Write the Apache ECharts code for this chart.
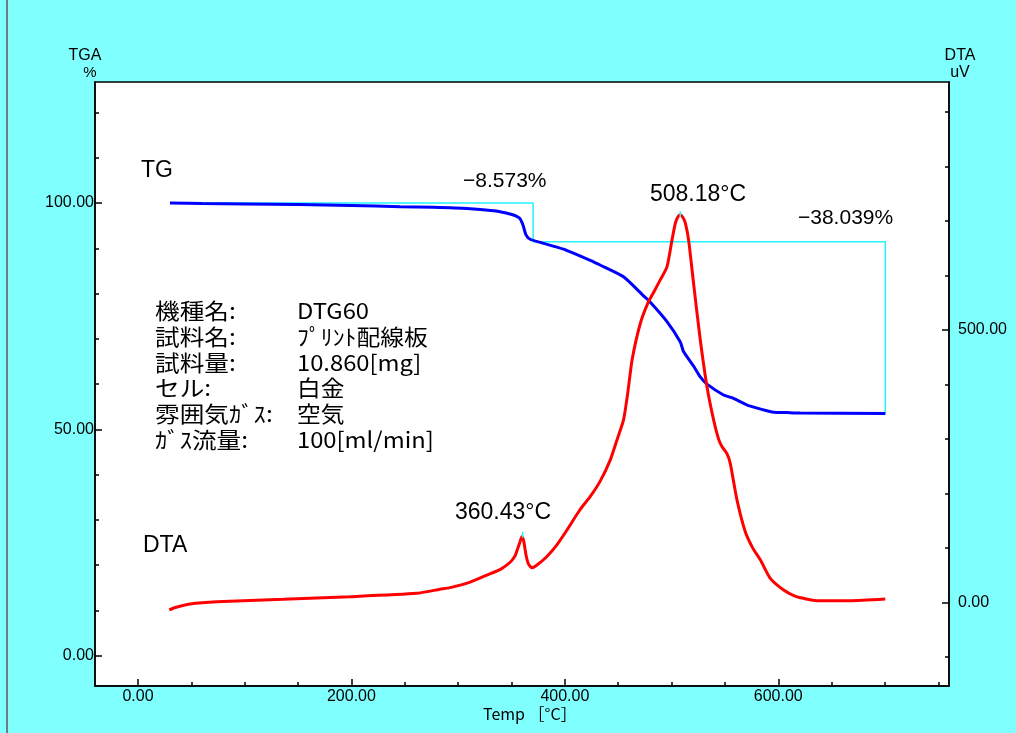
<!DOCTYPE html>
<html>
<head>
<meta charset="utf-8">
<script src="https://cdn.jsdelivr.net/npm/echarts@6/dist/echarts.min.js"></script>
<style>html,body{margin:0;padding:0;background:#80ffff;}#c{width:1016px;height:733px;}</style>
</head>
<body>
<div id="c"></div>
<script>
// ---- data ----
const tgTemp = [30, 60, 100, 150, 200, 245.6, 276.8, 308.2, 333.1, 345, 351.9, 356, 358.1, 360, 361.2, 363.7, 367.5, 376.9, 398.7, 426.8, 433, 455, 473.7, 478.4, 495.7, 508.2, 511.2, 520.6, 526.9, 533.2, 548.7, 556.5, 570.5, 577, 589.3, 595.7, 608, 620.6, 700.3];
const tgPct  = [100.0, 99.9, 99.8, 99.65, 99.45, 99.2, 99.05, 98.8, 98.3, 97.8, 97.35, 96.9, 96.5, 95.6, 94.8, 92.9, 92.0, 91.3, 89.8, 87.0, 86.3, 83.7, 79.5, 78.5, 73.8, 69.3, 67.2, 64.0, 61.6, 60.0, 57.6, 57.0, 55.4, 54.9, 54.1, 53.8, 53.7, 53.6, 53.5];

const dtaTemp = [29.3, 35, 48.7, 73.8, 136, 199, 261, 283, 292.5, 310, 327, 340, 349, 353, 355, 357.5, 359.7, 361.5, 363.7, 366, 369, 373, 383, 392, 402, 414, 423.7, 433, 442.5, 449, 455, 459, 463, 470.7, 478.4, 484, 489.4, 495.7, 500.4, 503.5, 506, 508.2, 510.5, 513, 516, 520.6, 526.9, 533.2, 539.4, 544, 547.2, 551.9, 555, 561.3, 569, 576, 583.2, 592.5, 605, 615, 623.7, 636, 667, 700.3];
const dtaUV   = [-14, -9.5, -3.1, 1.1, 5.5, 10.3, 16.5, 23.9, 27, 36, 50, 61, 74, 84, 94, 108, 120.4, 112, 86, 70, 63.5, 67, 83.7, 104, 132.8, 169.5, 193.9, 222, 261, 299, 335, 385, 445, 512, 552, 572, 592, 616, 665, 696, 708, 711, 707, 696, 665, 586, 482, 396, 335, 300, 286, 273, 255, 188, 130, 100, 78, 44, 22.6, 12, 7.3, 3, 3, 6.1];

// weight-loss step (TGA analysis)
const stepTemp = [30, 370.3, 370.3, 700.3, 700.3];
const stepPct  = [100.0, 100.0, 91.427, 91.427, 53.388];
const stepLabels = ['\u22128.573%', '\u221238.039%'];

// DTA peaks
const peakTemp = [360.43, 508.18];
const peakUV   = [120.4, 711];

// tick values
const xMajor = [0, 200, 400, 600];
const xMinor = [50, 100, 150, 250, 300, 350, 450, 500, 550, 650, 700, 750];
const tgMajor = [0, 50, 100];
const tgMinor = [10, 20, 30, 40, 60, 70, 80, 90, 110, 120];
const dtaMajor = [0, 500];
const dtaMinor = [-100, 100, 200, 300, 400, 600, 700, 800, 900];

const infoLabels = ['機種名:', '試料名:', '試料量:', 'セル:', '雰囲気ｶﾞｽ:', 'ｶﾞｽ流量:'];
const infoValues = ['DTG60', 'ﾌﾟﾘﾝﾄ配線板', '10.860[mg]', '白金', '空気', '100[ml/min]'];

// ---- chart ----
const zip = (a, b) => a.map((v, i) => [v, b[i]]);
const fmt = v => Number(v).toFixed(2);
const NUM = 'Liberation Sans, Arial, sans-serif';
const JP = 'Noto Sans CJK JP, sans-serif';

const X = {min: -40.3, max: 760};
const YL = {min: -6.69, max: 126.73};
const YR = {min: -153.7, max: 955.4};

function axisBase(rng, pos) {
  return Object.assign({type: 'value', position: pos, gridIndex: 0, splitLine: {show: false}}, rng);
}
const line = show => ({show: show, onZero: false, lineStyle: {color: '#000', width: 1.5}});

const texts = [];
function txt(x, y, s, size, font, align, sx) {
  texts.push({type: 'text', x: x, y: y, z: 100, scaleX: sx || 1,
    style: {text: s, fontSize: size, fontFamily: font, fill: '#000', align: align || 'left', verticalAlign: 'middle'}});
}
txt(141, 171, 'TG', 23, NUM);
txt(143, 546, 'DTA', 23, NUM);
txt(463, 181, stepLabels[0], 21, NUM);
txt(798, 218, stepLabels[1], 21, NUM);
txt(455, 513, peakTemp[0].toFixed(2) + '°C', 23, NUM);
txt(650, 195, peakTemp[1].toFixed(2) + '°C', 23, NUM);
infoLabels.forEach((l, i) => {
  txt(155, 311 + 25.7 * i, l, 22, JP, 'left', 1.12);
  txt(297, 311 + 25.7 * i, infoValues[i], 22, JP, 'left', 1.08);
});
txt(85, 56, 'TGA', 16, NUM, 'center');
txt(90, 73, '%', 15, NUM, 'center');
txt(960, 56, 'DTA', 16, NUM, 'center');
txt(960, 73, 'uV', 16, NUM, 'center');
txt(483, 714, 'Temp ［°C］', 16, JP);
texts.push({type: 'rect', shape: {x: 6, y: 0, width: 2, height: 733}, style: {fill: '#6f7f7f'}, z: 100});

const option = {
  animation: false,
  backgroundColor: '#80ffff',
  grid: {left: 95, right: 67, top: 82, bottom: 47, show: true, backgroundColor: '#ffffff', borderColor: '#000', borderWidth: 1.5},
  xAxis: [
    Object.assign(axisBase(X, 'bottom'), {
      axisLine: line(true),
      axisTick: {show: true, inside: true, length: 7, customValues: xMajor, lineStyle: {color: '#000', width: 1.5}},
      axisLabel: {show: true, customValues: xMajor, formatter: fmt, fontSize: 16, fontFamily: NUM, color: '#000', margin: 3}
    }),
    Object.assign(axisBase(X, 'bottom'), {
      axisLine: line(false),
      axisTick: {show: true, inside: true, length: 4, customValues: xMinor, lineStyle: {color: '#000', width: 1.5}},
      axisLabel: {show: false}
    })
  ],
  yAxis: [
    Object.assign(axisBase(YL, 'left'), {
      axisLine: line(true),
      axisTick: {show: true, inside: true, length: 7, customValues: tgMajor, lineStyle: {color: '#000', width: 1.5}},
      axisLabel: {show: true, customValues: tgMajor, formatter: fmt, fontSize: 16, fontFamily: NUM, color: '#000', margin: 1}
    }),
    Object.assign(axisBase(YL, 'left'), {
      axisLine: line(false),
      axisTick: {show: true, inside: true, length: 4, customValues: tgMinor, lineStyle: {color: '#000', width: 1.5}},
      axisLabel: {show: false}
    }),
    Object.assign(axisBase(YR, 'right'), {
      axisLine: line(true),
      axisTick: {show: true, inside: true, length: 7, customValues: dtaMajor, lineStyle: {color: '#000', width: 1.5}},
      axisLabel: {show: true, customValues: dtaMajor, formatter: fmt, fontSize: 16, fontFamily: NUM, color: '#000', margin: 9}
    }),
    Object.assign(axisBase(YR, 'right'), {
      axisLine: line(false),
      axisTick: {show: true, inside: true, length: 4, customValues: dtaMinor, lineStyle: {color: '#000', width: 1.5}},
      axisLabel: {show: false}
    })
  ],
  series: [
    {type: 'line', name: 'step', xAxisIndex: 0, yAxisIndex: 0, data: zip(stepTemp, stepPct), showSymbol: false,
      lineStyle: {color: '#22f4ff', width: 1.5}, z: 2},
    {type: 'line', name: 'TG', xAxisIndex: 0, yAxisIndex: 0, data: zip(tgTemp, tgPct), showSymbol: false, smooth: 0.2,
      lineStyle: {color: '#0000ff', width: 3}, z: 3},
    {type: 'line', name: 'DTA', xAxisIndex: 0, yAxisIndex: 2, data: zip(dtaTemp, dtaUV), showSymbol: false, smooth: 0.2,
      lineStyle: {color: '#ff0000', width: 3}, z: 3},
    {type: 'line', name: 'pk1', xAxisIndex: 0, yAxisIndex: 2, data: [[peakTemp[0], peakUV[0] - 2], [peakTemp[0], peakUV[0] + 9]], showSymbol: false,
      lineStyle: {color: '#22f4ff', width: 1.5}, z: 4},
    {type: 'line', name: 'pk2', xAxisIndex: 0, yAxisIndex: 2, data: [[peakTemp[1], peakUV[1] - 4], [peakTemp[1], peakUV[1] + 7]], showSymbol: false,
      lineStyle: {color: '#22f4ff', width: 1.5}, z: 4}
  ],
  graphic: texts
};
const chart = echarts.init(document.getElementById('c'));
chart.setOption(option);
</script>
</body>
</html>
